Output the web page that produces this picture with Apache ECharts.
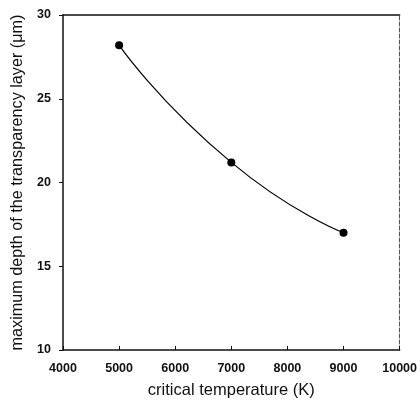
<!DOCTYPE html>
<html><head><meta charset="utf-8">
<script src="https://cdn.jsdelivr.net/npm/echarts@6/dist/echarts.min.js"></script>
<style>html,body{margin:0;padding:0;background:#fff}#c{width:420px;height:405px}</style>
</head><body><div id="c"></div>
<script>
const temperatures = [5000, 7000, 9000];
const depths = [28.2, 21.2, 17.0];
const xTicks = [4000, 5000, 6000, 7000, 8000, 9000, 10000];
const yTicks = [10, 15, 20, 25, 30];

const chart = echarts.init(document.getElementById('c'), null, {renderer: 'canvas'});
const font = 'Liberation Sans, Arial, sans-serif';
chart.setOption({
  animation: false,
  grid: {left: 63, top: 15, right: 18, bottom: 55, containLabel: false},
  xAxis: [{
    type: 'value', min: xTicks[0], max: xTicks[xTicks.length - 1], interval: 1000,
    name: 'critical temperature (K)', nameLocation: 'middle', nameGap: 32,
    nameTextStyle: {fontFamily: font, fontSize: 16.5, color: '#111'},
    axisLine: {lineStyle: {color: '#111', width: 1.5}},
    axisTick: {inside: true, length: 4, lineStyle: {color: '#111'}},
    axisLabel: {fontFamily: font, fontSize: 12.5, fontWeight: 'bold', color: '#111', margin: 12,
      formatter: v => String(v)},
    splitLine: {show: false}
  }, {
    type: 'value', position: 'top', min: xTicks[0], max: xTicks[xTicks.length - 1],
    axisLine: {show: true, lineStyle: {color: '#111', width: 1.5}},
    axisTick: {show: false}, axisLabel: {show: false}, splitLine: {show: false}
  }],
  yAxis: [{
    type: 'value', min: yTicks[0], max: yTicks[yTicks.length - 1], interval: 5,
    name: 'maximum depth of the transparency layer (\u03bcm)', nameLocation: 'middle', nameGap: 37,
    nameTextStyle: {fontFamily: font, fontSize: 16.2, color: '#111'},
    axisLine: {show: true, lineStyle: {color: '#111', width: 1.5}},
    axisTick: {show: true, inside: false, length: 4, lineStyle: {color: '#111'}},
    axisLabel: {fontFamily: font, fontSize: 12.5, fontWeight: 'bold', color: '#111', margin: 12,
      formatter: v => String(v)},
    splitLine: {show: false}
  }, {
    type: 'value', position: 'right', min: yTicks[0], max: yTicks[yTicks.length - 1],
    axisLine: {show: true, lineStyle: {color: '#555', width: 1, type: 'dashed'}},
    axisTick: {show: false}, axisLabel: {show: false}, splitLine: {show: false}
  }],
  series: [{
    type: 'line',
    data: temperatures.map((t, i) => [t, depths[i]]),
    smooth: 0.6,
    symbol: 'circle', symbolSize: 8,
    itemStyle: {color: '#000'},
    lineStyle: {color: '#000', width: 1.2}
  }]
});
</script></body></html>
